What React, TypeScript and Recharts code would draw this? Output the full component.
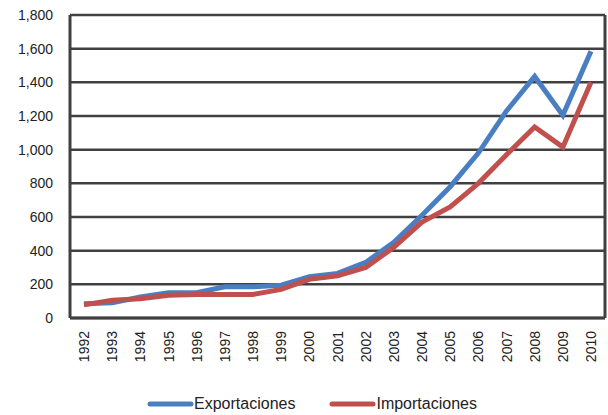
import React from 'react';
import { LineChart, Line, XAxis, YAxis, CartesianGrid, Legend } from 'recharts';

const years = ['1992', '1993', '1994', '1995', '1996', '1997', '1998', '1999', '2000', '2001',
  '2002', '2003', '2004', '2005', '2006', '2007', '2008', '2009', '2010'];
const exportaciones = [85, 90, 125, 150, 150, 185, 185, 195, 245, 265, 330, 450, 610, 780, 980, 1230, 1435, 1205, 1585];
const importaciones = [78, 105, 115, 135, 140, 140, 140, 170, 230, 250, 300, 420, 570, 660, 800, 970, 1135, 1015, 1400];
const yTicks = [0, 200, 400, 600, 800, 1000, 1200, 1400, 1600, 1800];

const BLUE = '#4A7EC2';
const RED = '#C0504D';
const DARK = '#404040';
const FONT = 'Liberation Sans, Arial, sans-serif';

const data = years.map((y, i) => ({ year: y, exp: exportaciones[i], imp: importaciones[i] }));

const fmt = (v: number) => v.toLocaleString('en-US');

const LegendContent = (props: any) => {
  const items = props.payload || [];
  return (
    <div style={{ display: 'flex', justifyContent: 'center', gap: 34, fontFamily: FONT, fontSize: 16, color: '#222', marginLeft: 10, paddingTop: 10 }}>
      {items.map((it: any) => (
        <div key={it.value} style={{ display: 'flex', alignItems: 'center' }}>
          <svg width={47} height={8}>
            <line x1={3} y1={4} x2={44} y2={4} stroke={it.color} strokeWidth={5} strokeLinecap="round" />
          </svg>
          <span>{it.value}</span>
        </div>
      ))}
    </div>
  );
};

const XTick = (props: any) => {
  const { x, y, payload } = props;
  return (
    <text x={x} y={y} transform={`rotate(-90, ${x}, ${y})`} textAnchor="end" dy={5} dx={-5}
      fontFamily={FONT} fontSize={14} fill="#222">
      {payload.value}
    </text>
  );
};

export default function App() {
  return (
    <div style={{ position: 'absolute', left: 0, top: 0, width: 608, height: 415, background: '#fff' }}>
      <LineChart width={608} height={415} data={data} margin={{ top: 15, right: 2, left: 8, bottom: 0 }}>
        <CartesianGrid vertical={false} stroke={DARK} strokeWidth={2.5} />
        <XAxis dataKey="year" axisLine={{ stroke: DARK, strokeWidth: 3 }} tickLine={false}
          tick={<XTick />} interval={0} height={67} padding={{ left: 14, right: 14 }} />
        <YAxis domain={[0, 1800]} ticks={yTicks} tickFormatter={fmt} width={62} tickMargin={11}
          axisLine={{ stroke: DARK, strokeWidth: 3 }} tickLine={false}
          tick={{ fontFamily: FONT, fontSize: 14, fill: '#222' }} />
        <YAxis yAxisId="r" orientation="right" domain={[0, 1800]} width={1} tick={false}
          axisLine={{ stroke: DARK, strokeWidth: 3 }} tickLine={false} />
        <Legend verticalAlign="bottom" height={30} content={<LegendContent />} />
        <Line dataKey="exp" name="Exportaciones" stroke={BLUE} strokeWidth={5} dot={false} isAnimationActive={false} />
        <Line dataKey="imp" name="Importaciones" stroke={RED} strokeWidth={5} dot={false} isAnimationActive={false} />
      </LineChart>
    </div>
  );
}
